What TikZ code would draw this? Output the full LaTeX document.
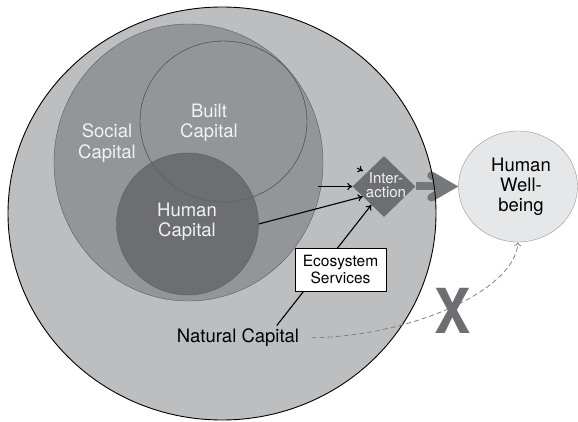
\documentclass[tikz,border=0pt]{standalone}
\usepackage{fontspec}
\setmainfont{TeX Gyre Heros}
\usetikzlibrary{shapes.geometric, arrows.meta, positioning, calc}
\definecolor{NatFill}{RGB}{188,190,192}
\definecolor{SocFill}{RGB}{147,149,152}
\definecolor{HumFill}{RGB}{109,110,113}
\definecolor{RimGray}{RGB}{90,91,94}
\definecolor{ArrGray}{RGB}{118,119,122}
\definecolor{WellFill}{RGB}{230,231,232}
\definecolor{WellRim}{RGB}{150,151,154}
\definecolor{DashGray}{RGB}{128,130,133}
\definecolor{LightText}{RGB}{242,242,243}

\begin{document}
\begin{tikzpicture}[x=1pt, y=-1pt,
  capzone/.style={ellipse, inner sep=0pt},
  whitetxt/.style={align=center, font=\fontsize{18.5}{20.5}\selectfont, text=LightText},
  blacktxt/.style={align=center, font=\fontsize{18.5}{20}\selectfont},
  arr/.style={-{To[length=5pt,width=7pt]}, line width=1.1pt},
  bigarr/.style={ArrGray, line width=8pt}
]
\useasboundingbox (0,0) rectangle (578,422);

% nested capitals
\node[capzone, fill=NatFill, minimum width=428pt, minimum height=413pt] (nat) at (222,213.5) {};
\node[capzone, fill=SocFill, draw=RimGray, minimum width=269pt, minimum height=277pt] (soc) at (188.5,162.5) {};
\node[capzone, fill=SocFill, draw=RimGray, minimum width=167pt, minimum height=161pt] (built) at (223.5,121.5) {};
\node[capzone, fill=HumFill, draw=RimGray, minimum size=142pt] (hum) at (187.5,224) {};
\draw[RimGray] (built.center) ellipse [x radius=83.5, y radius=80.5];

\node[whitetxt] (soclab) at (107,143) {Social\\Capital};
\node[whitetxt] (builtlab) at (209,123) {Built\\Capital};
\node[whitetxt] (humlab) at (187,222) {Human\\Capital};

% interaction and well-being
\node[diamond, aspect=1, inner sep=0pt, minimum width=63pt, minimum height=61pt, fill=HumFill] (ia) at (384,186.5) {};
\node[align=center, font=\fontsize{15}{14.5}\selectfont, text=LightText] (ialab) at (386,185) {Inter-\\action};
\node[capzone, draw=WellRim, fill=WellFill, minimum width=119pt, minimum height=111pt] (hw) at (518,186.5) {};
\node[blacktxt] (hwlab) at (521,187) {Human\\Well-\\being};

\node[blacktxt] (nc) at (238,338) {Natural Capital};

% flows into the interaction
\coordinate (bstub) at (357,168);
\draw[arr] (bstub) -- ++(6,3);
\draw[arr] ([xshift=-5pt]soc.east |- ia.west) -- (ia.west);
\draw[arr] (hum.east) -- ($(ia.west)!0.33!(ia.south)$);
\draw[arr] ($(nc.north)!0.6!(nc.north east)$) -- ($(ia.west)!0.6!(ia.south)$);
\node[draw, fill=white, align=center, font=\fontsize{15.5}{17.6}\selectfont, minimum width=91pt, minimum height=43pt, inner sep=2pt] (eco) at (340.5,269.5) {Ecosystem\\Services};

% thick arrow into well-being
\coordinate (tipv) at ($(hw.west)+(-8,0)$);
\draw[bigarr] (ia.east) -- (tipv);
\draw[bigarr, line cap=round, line join=miter] ($(tipv)+(-19,-11)$) -- (tipv) -- ($(tipv)+(-19,11)$);
\draw[line width=0.9pt] (nat.center) ellipse [x radius=214, y radius=206.5];

% direct path that does not hold
\draw[DashGray, line width=0.8pt, dash pattern=on 5pt off 3pt, -{To[length=4pt,width=7pt]}, shorten <=9pt]
  (nc.east) .. controls +(110,-2) and +(-3,48) .. (hw.south);
\node[text=HumFill, font=\fontsize{62}{62}\selectfont\bfseries, xscale=0.88] (nox) at (453,311) {X};
\end{tikzpicture}
\end{document}
